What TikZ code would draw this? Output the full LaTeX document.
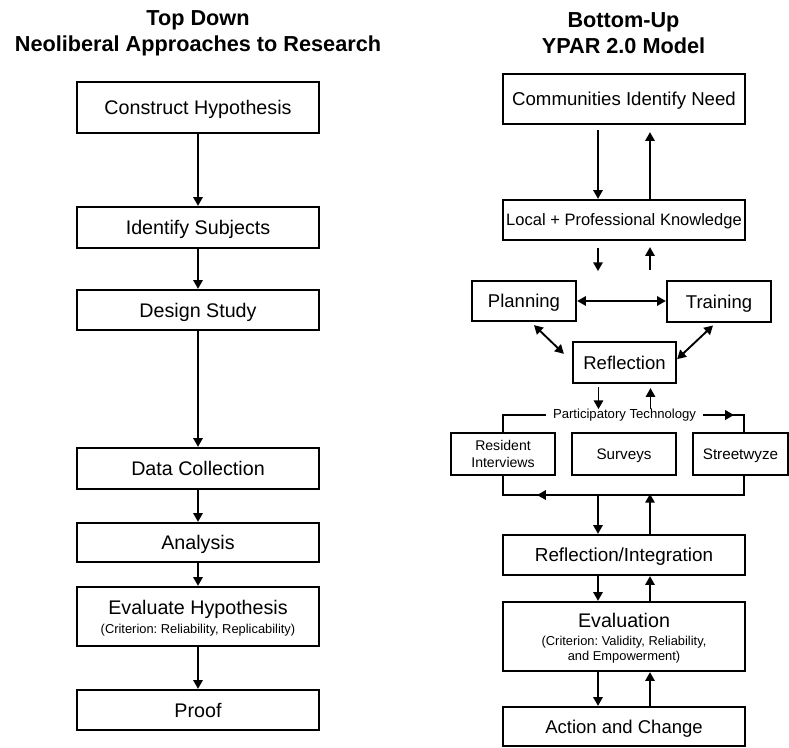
\documentclass[tikz,border=0pt]{standalone}
\usepackage{fontspec}
\setmainfont{Liberation Sans}
\usetikzlibrary{arrows.meta}
\frenchspacing
\tikzset{
  box/.style={draw, line width=1.9pt, inner sep=0pt, align=center, text depth=0pt,
    minimum width=7.26cm, minimum height=1.2cm, font=\fontsize{16.8}{19}\selectfont},
  sbox/.style={box, minimum width=3.12cm, font=\fontsize{15.8}{18}\selectfont},
  tbox/.style={sbox, minimum height=1.26cm, font=\fontsize{13}{15}\selectfont},
  arr/.style={line width=1.6pt, -{Triangle[length=7.5pt,width=8pt]}},
  darr/.style={line width=1.6pt, {Triangle[length=7.5pt,width=8pt]}-{Triangle[length=7.5pt,width=8pt]}},
  conn/.style={line width=1.6pt},
  title/.style={align=center, font=\fontsize{18.5}{22}\selectfont\bfseries}
}
\newcommand{\subtxt}{\fontsize{11}{13}\selectfont}
\begin{document}
\begin{tikzpicture}[x=0.03cm, y=-0.03cm]
    \useasboundingbox (0,0) rectangle (789,747);
    % titles
    \node[title] (tdown) at (198,33) {Top Down\\Neoliberal Approaches to Research};
    \node[title] (bup) at (623.5,33) {Bottom-Up\\YPAR 2.0 Model};
    % top down column
    \node[box, minimum height=1.53cm] (ch) at (198,107.5) {Construct Hypothesis};
    \node[box, minimum height=1.23cm] (is) at (198,227.5) {Identify Subjects};
    \node[box] (ds) at (198,310) {Design Study};
    \node[box, minimum height=1.23cm] (dc) at (198,468.5) {Data Collection};
    \node[box, minimum height=1.17cm] (an) at (198,542.5) {Analysis};
    \node[box, minimum height=1.77cm] (eh) at (198,616.5) {Evaluate Hypothesis\\[-3pt]{\subtxt (Criterion: Reliability, Replicability)}};
    \node[box] (pf) at (198,710) {Proof};
    \draw[arr] (ch.south) -- (is.north);
    \draw[arr] (is.south) -- (ds.north);
    \draw[arr] (ds.south) -- (dc.north);
    \draw[arr] (dc.south) -- (an.north);
    \draw[arr] (an.south) -- (eh.north);
    \draw[arr] (eh.south) -- (pf.north);
    % bottom up column
    \node[box, minimum height=1.5cm, font=\fontsize{15.9}{18}\selectfont] (cn) at (624,99) {Communities Identify Need};
    \node[box, font=\fontsize{14.1}{17}\selectfont] (lk) at (624,220) {Local + Professional Knowledge};
    \node[sbox] (pl) at (524,301) {Planning};
    \node[sbox, minimum height=1.23cm] (tg) at (719,301.5) {Training};
    \node[sbox, minimum width=3.09cm, minimum height=1.23cm] (rf) at (624.5,362.5) {Reflection};
    \node[font=\fontsize{11.2}{13}\selectfont, inner sep=6pt] (pt) at (624.5,415) {Participatory Technology};
    \node[tbox, font=\fontsize{12}{14.5}\selectfont] (ri) at (503,454) {Resident\\Interviews};
    \node[tbox] (sv) at (624,454) {Surveys};
    \node[tbox, minimum width=2.85cm] (sw) at (740.5,454) {Streetwyze};
    \node[box, font=\fontsize{16.1}{19}\selectfont] (rint) at (624,555) {Reflection/Integration};
    \node[box, minimum height=2.07cm] (ev) at (624,636.5) {Evaluation\\[-3pt]{\subtxt (Criterion: Validity, Reliability,}\\[-7pt]{\subtxt and Empowerment)}};
    \node[box, minimum height=1.17cm, font=\fontsize{15.8}{18}\selectfont] (ac) at (624,726.5) {Action and Change};
    \coordinate (ptl) at (503,415);
    \coordinate (ptr) at (744,415);
    \coordinate (bl) at (503,495);
    \coordinate (br) at (744,495);
    \draw[arr] ([xshift=-0.78cm,yshift=-0.15cm]cn.south) -- ([xshift=-0.78cm]lk.north);
    \draw[arr] ([xshift=0.78cm]lk.north) -- ([xshift=0.78cm,yshift=-0.21cm]cn.south);
    \draw[arr] ([xshift=-0.78cm,yshift=-0.21cm]lk.south) -- ++(0,23);
    \draw[arr] ([xshift=0.78cm,yshift=-0.87cm]lk.south) -- ++(0,-23);
    \draw[darr] (pl.east) -- (pl.east -| tg.west);
    \draw[darr] ([xshift=0.3cm,yshift=-0.09cm]pl.south) -- ([xshift=-0.24cm,yshift=0.26cm]rf.west);
    \draw[darr] ([xshift=-0.18cm,yshift=-0.07cm]tg.south) -- ([yshift=0.1cm]rf.east);
    \draw[arr] ([xshift=-0.78cm,yshift=-0.09cm]rf.south) -- ++(0,22);
    \draw[arr] ([xshift=0.78cm,yshift=-0.75cm]rf.south) -- ++(0,-21);
    \draw[conn] (ri.north) -- (ptl) -- (pt.west);
    \draw[conn] (pt.east) -- (ptr) -- (sw.north -| ptr);
    \draw[arr] (pt.east) -- ([xshift=-0.3cm]ptr);
    \draw[conn] (ri.south) -- (bl) -- (br) -- (sw.south -| br);
    \draw[arr] (br) -- ([xshift=1.02cm]bl);
    \draw[arr] ([xshift=-0.78cm,yshift=1.2cm]rint.north) -- ([xshift=-0.78cm]rint.north);
    \draw[arr] ([xshift=0.78cm]rint.north) -- ([xshift=0.78cm,yshift=1.2cm]rint.north);
    \draw[arr] ([xshift=-0.78cm]rint.south) -- ([xshift=-0.78cm]ev.north);
    \draw[arr] ([xshift=0.78cm]ev.north) -- ([xshift=0.78cm]rint.south);
    \draw[arr] ([xshift=-0.78cm]ev.south) -- ([xshift=-0.78cm]ac.north);
    \draw[arr] ([xshift=0.78cm]ac.north) -- ([xshift=0.78cm]ev.south);
\end{tikzpicture}
\end{document}
